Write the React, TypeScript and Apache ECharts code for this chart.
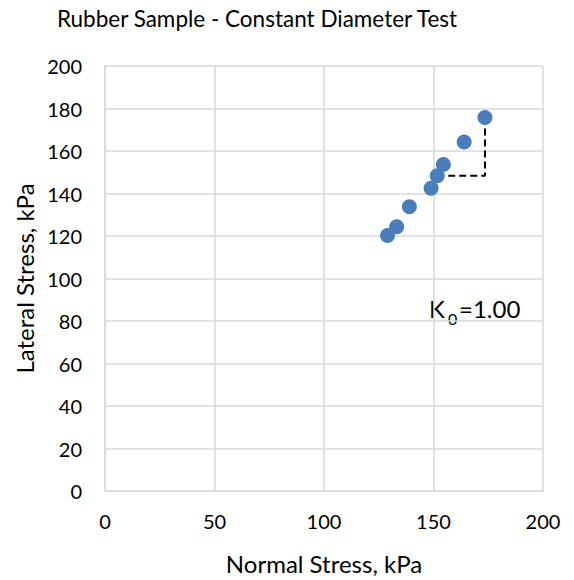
import React, { useEffect, useRef } from "react";
import * as echarts from "echarts";

const normalStress = [129.0, 133.2, 139.0, 148.9, 151.7, 154.5, 164.0, 173.5];
const lateralStress = [120.2, 124.4, 133.8, 142.5, 148.3, 153.7, 164.2, 175.8];
const slopeX = [151.7, 173.5, 173.5];
const slopeY = [148.3, 148.3, 175.8];

const FONT = "Lato";

export default function App() {
  const ref = useRef<HTMLDivElement>(null);
  useEffect(() => {
    document.body.style.margin = "0";
    const chart = echarts.init(ref.current!, null, { renderer: "svg" });
    const grid = "#d9d9d9";
    chart.setOption({
      animation: false,
      backgroundColor: "#ffffff",
      textStyle: { fontFamily: FONT },
      grid: { left: 105, top: 66, width: 438, height: 428 },
      xAxis: {
        type: "value",
        min: 0,
        max: 200,
        interval: 50,
        name: "Normal Stress, kPa",
        nameLocation: "middle",
        nameGap: 72,
        nameTextStyle: { fontFamily: FONT, fontSize: 24, color: "#000", verticalAlign: "middle" },
        axisLine: { show: true, lineStyle: { color: grid, width: 1.5 } },
        axisTick: { show: false },
        axisLabel: { fontFamily: FONT, fontSize: 20, color: "#000", margin: 20 },
        splitLine: { show: true, lineStyle: { color: grid, width: 1.5 } },
      },
      yAxis: {
        type: "value",
        min: 0,
        max: 200,
        interval: 20,
        name: "Lateral Stress, kPa",
        nameLocation: "middle",
        nameGap: 80,
        nameTextStyle: { fontFamily: FONT, fontSize: 24, color: "#000", verticalAlign: "middle" },
        axisLine: { show: true, lineStyle: { color: grid, width: 1.5 } },
        axisTick: { show: false },
        axisLabel: { fontFamily: FONT, fontSize: 20, color: "#000", margin: 23 },
        splitLine: { show: true, lineStyle: { color: grid, width: 1.5 } },
      },
      graphic: [
        {
          type: "text",
          x: 257,
          y: 18,
          style: {
            text: "Rubber Sample - Constant Diameter Test",
            fontFamily: FONT,
            fontSize: 22.5,
            fill: "#000",
            align: "center",
            verticalAlign: "middle",
          },
        },
        {
          type: "text",
          x: 429,
          y: 308,
          style: { text: "K", fontFamily: FONT, fontSize: 24, fill: "#000", align: "left", verticalAlign: "middle" },
        },
        {
          type: "text",
          x: 448,
          y: 318,
          style: { text: "0", fontFamily: FONT, fontSize: 16, fill: "#000", align: "left", verticalAlign: "middle" },
        },
        {
          type: "text",
          x: 459,
          y: 308,
          style: { text: "=1.00", fontFamily: FONT, fontSize: 24, fill: "#000", align: "left", verticalAlign: "middle" },
        },
      ],
      series: [
        {
          type: "line",
          data: slopeX.map((x, i) => [x, slopeY[i]]),
          showSymbol: false,
          symbol: "none",
          lineStyle: { color: "#000", width: 2, type: [7, 4] },
          z: 1,
        },
        {
          type: "scatter",
          data: normalStress.map((x, i) => [x, lateralStress[i]]),
          symbol: "circle",
          symbolSize: 15,
          itemStyle: { color: "#4a7ebb", opacity: 1 },
          z: 3,
        },
      ],
    });
    return () => chart.dispose();
  }, []);
  return <div ref={ref} style={{ width: 574, height: 580 }} />;
}
